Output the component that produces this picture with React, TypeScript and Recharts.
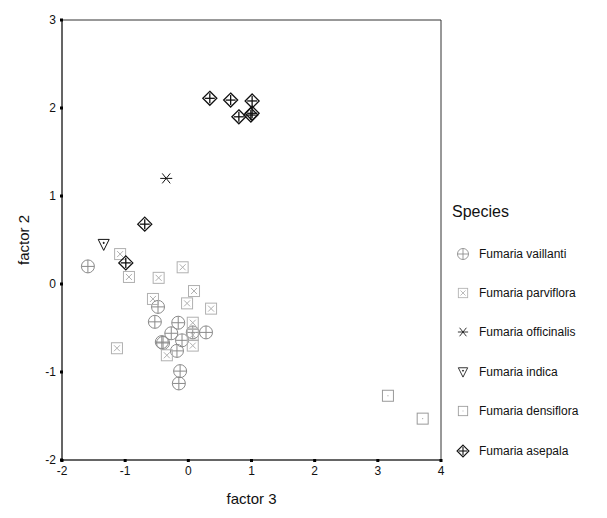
import { ScatterChart, Scatter, XAxis, YAxis, Label, ReferenceArea } from "recharts";

type Pt = { x: number; y: number };

const X_TICKS = [-2, -1, 0, 1, 2, 3, 4];
const Y_TICKS = [-2, -1, 0, 1, 2, 3];

const vaillanti: Pt[] = [
  { x: -1.59, y: 0.2 },
  { x: -0.48, y: -0.26 },
  { x: -0.53, y: -0.43 },
  { x: -0.16, y: -0.44 },
  { x: -0.42, y: -0.66 },
  { x: -0.4, y: -0.67 },
  { x: -0.27, y: -0.56 },
  { x: -0.18, y: -0.76 },
  { x: -0.1, y: -0.64 },
  { x: 0.07, y: -0.55 },
  { x: 0.28, y: -0.55 },
  { x: -0.13, y: -0.99 },
  { x: -0.15, y: -1.13 },
];

const parviflora: Pt[] = [
  { x: -1.08, y: 0.34 },
  { x: -0.94, y: 0.08 },
  { x: -0.47, y: 0.07 },
  { x: -0.09, y: 0.19 },
  { x: 0.09, y: -0.08 },
  { x: -0.56, y: -0.17 },
  { x: -0.02, y: -0.22 },
  { x: 0.36, y: -0.28 },
  { x: -1.13, y: -0.73 },
  { x: 0.07, y: -0.44 },
  { x: 0.07, y: -0.7 },
  { x: -0.34, y: -0.81 },
  { x: 0.07, y: -0.58 },
];

const officinalis: Pt[] = [{ x: -0.35, y: 1.2 }];

const indica: Pt[] = [{ x: -1.34, y: 0.45 }];

const densiflora: Pt[] = [
  { x: 3.16, y: -1.27 },
  { x: 3.71, y: -1.53 },
];

const asepala: Pt[] = [
  { x: 0.34, y: 2.11 },
  { x: 0.67, y: 2.09 },
  { x: 1.01, y: 2.08 },
  { x: 0.8, y: 1.9 },
  { x: 1.01, y: 1.94 },
  { x: 0.99, y: 1.92 },
  { x: -0.69, y: 0.68 },
  { x: -0.99, y: 0.24 },
];

const FONT = "'Liberation Sans', Arial, sans-serif";
const AXIS = "#333";

function CircleCross({ cx, cy, color }: { cx: number; cy: number; color: string }) {
  return (
    <g stroke={color} fill="none" strokeWidth={1}>
      <circle cx={cx} cy={cy} r={6.5} />
      <line x1={cx - 6.5} y1={cy} x2={cx + 6.5} y2={cy} />
      <line x1={cx} y1={cy - 6.5} x2={cx} y2={cy + 6.5} />
    </g>
  );
}

function SquareX({ cx, cy, color }: { cx: number; cy: number; color: string }) {
  return (
    <g stroke={color} fill="none" strokeWidth={1}>
      <rect x={cx - 5.5} y={cy - 5.5} width={11} height={11} />
      <line x1={cx - 3} y1={cy - 3} x2={cx + 3} y2={cy + 3} />
      <line x1={cx - 3} y1={cy + 3} x2={cx + 3} y2={cy - 3} />
    </g>
  );
}

function Star({ cx, cy, color }: { cx: number; cy: number; color: string }) {
  return (
    <g stroke={color} fill="none" strokeWidth={1}>
      <line x1={cx - 6} y1={cy} x2={cx + 6} y2={cy} />
      <line x1={cx - 4} y1={cy - 5} x2={cx + 4} y2={cy + 5} />
      <line x1={cx - 4} y1={cy + 5} x2={cx + 4} y2={cy - 5} />
    </g>
  );
}

function TriDown({ cx, cy, color }: { cx: number; cy: number; color: string }) {
  return (
    <g stroke={color} fill="none" strokeWidth={1}>
      <path d={`M${cx - 5.5},${cy - 5} L${cx + 5.5},${cy - 5} L${cx},${cy + 6} Z`} />
      <circle cx={cx} cy={cy - 1.5} r={0.6} fill={color} />
    </g>
  );
}

function SquareDot({ cx, cy, color }: { cx: number; cy: number; color: string }) {
  return (
    <g stroke={color} fill="none" strokeWidth={1}>
      <rect x={cx - 5.5} y={cy - 5.5} width={11} height={11} />
      <rect x={cx - 0.5} y={cy - 0.5} width={1} height={1} fill={color} stroke="none" />
    </g>
  );
}

function DiamondCross({ cx, cy, color }: { cx: number; cy: number; color: string }) {
  return (
    <g stroke={color} fill="none" strokeWidth={1.3}>
      <path d={`M${cx},${cy - 7} L${cx + 7},${cy} L${cx},${cy + 7} L${cx - 7},${cy} Z`} />
      <line x1={cx - 5} y1={cy} x2={cx + 5} y2={cy} />
      <line x1={cx} y1={cy - 5} x2={cx} y2={cy + 5} />
    </g>
  );
}

const SERIES = [
  { name: "Fumaria vaillanti", data: vaillanti, Icon: CircleCross, color: "#8a8a8a" },
  { name: "Fumaria parviflora", data: parviflora, Icon: SquareX, color: "#b0b0b0" },
  { name: "Fumaria officinalis", data: officinalis, Icon: Star, color: "#111" },
  { name: "Fumaria indica", data: indica, Icon: TriDown, color: "#111" },
  { name: "Fumaria densiflora", data: densiflora, Icon: SquareDot, color: "#999" },
  { name: "Fumaria asepala", data: asepala, Icon: DiamondCross, color: "#111" },
];

function XTick({ x, y, payload }: any) {
  return (
    <g>
      <rect x={x - 1.5} y={y - 3} width={3} height={3} fill="#000" />
      <text x={x} y={y + 13} textAnchor="middle" fontSize={12} fontFamily={FONT} fill="#111">
        {payload.value}
      </text>
    </g>
  );
}

function YTick({ x, y, payload }: any) {
  return (
    <g>
      <rect x={x} y={y - 1.5} width={3} height={3} fill="#000" />
      <text x={x - 4} y={y + 4} textAnchor="end" fontSize={12} fontFamily={FONT} fill="#111">
        {payload.value}
      </text>
    </g>
  );
}

function LegendBox() {
  return (
    <div style={{ position: "absolute", left: 455, top: 203, fontFamily: FONT, color: "#111" }}>
      <div style={{ fontSize: 16, marginBottom: 13, marginLeft: -3 }}>Species</div>
      {SERIES.map((s) => (
        <div key={s.name} style={{ display: "flex", alignItems: "center", height: 39.4 }}>
          <svg width={16} height={16} style={{ marginRight: 8 }}>
            <g transform="translate(8 8) scale(0.85) translate(-8 -8)">
              <s.Icon cx={8} cy={8} color={s.color} />
            </g>
          </svg>
          <span style={{ fontSize: 12 }}>{s.name}</span>
        </div>
      ))}
    </div>
  );
}

export default function App() {
  return (
    <div style={{ position: "absolute", left: 0, top: 0, width: 607, height: 518, background: "#fff" }}>
      <ScatterChart width={607} height={518} margin={{ top: 20, right: 166, bottom: 8, left: 12 }}>
        <XAxis
          type="number"
          dataKey="x"
          domain={[-2, 4]}
          ticks={X_TICKS}
          allowDataOverflow
          height={50}
          tickSize={0}
          tickLine={false}
          stroke={AXIS}
          tick={<XTick />}
        >
          <Label value="factor 3" position="insideBottom" offset={6} style={{ fontSize: 15, fontFamily: FONT, fill: "#111" }} />
        </XAxis>
        <YAxis
          type="number"
          dataKey="y"
          domain={[-2, 3]}
          ticks={Y_TICKS}
          allowDataOverflow
          width={50}
          tickSize={0}
          tickLine={false}
          stroke={AXIS}
          tick={<YTick />}
        >
          <Label value="factor 2" angle={-90} position="insideLeft" offset={12} style={{ fontSize: 15, fontFamily: FONT, fill: "#111", textAnchor: "middle" }} />
        </YAxis>
        <ReferenceArea x1={-2} x2={4} y1={-2} y2={3} fill="none" stroke={AXIS} strokeWidth={1} ifOverflow="visible" />
        {SERIES.map((s) => (
          <Scatter
            key={s.name}
            name={s.name}
            data={s.data}
            isAnimationActive={false}
            shape={(p: any) => <s.Icon cx={p.cx} cy={p.cy} color={s.color} />}
          />
        ))}
      </ScatterChart>
      <LegendBox />
    </div>
  );
}
